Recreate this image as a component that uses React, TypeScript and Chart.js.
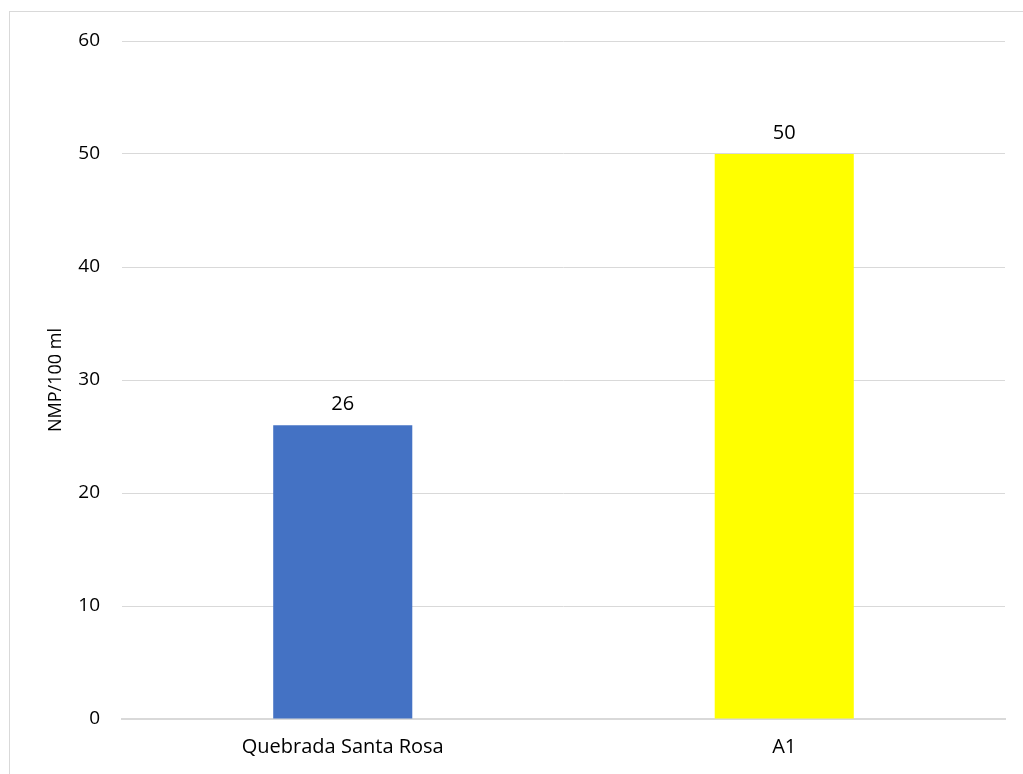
import React, { useEffect, useRef } from "react";
import { Chart, registerables } from "chart.js";

Chart.register(...registerables);

const categories = ["Quebrada Santa Rosa", "A1"];
const values = [26, 50];
const barColors = ["#4472C4", "#FFFF00"];
const yTitle = "NMP/100 ml";
const yMin = 0;
const yMax = 60;
const yStep = 10;

const FONT = "'Open Sans', Calibri, sans-serif";

const valueLabels = {
  id: "valueLabels",
  afterDatasetsDraw(chart: any) {
    const ctx = chart.ctx;
    ctx.save();
    ctx.font = `20px ${FONT}`;
    ctx.fillStyle = "#000000";
    ctx.textAlign = "center";
    ctx.textBaseline = "bottom";
    chart.data.datasets.forEach((ds: any, di: number) => {
      const meta = chart.getDatasetMeta(di);
      meta.data.forEach((bar: any, i: number) => {
        ctx.fillText(String(ds.data[i]), bar.x, bar.y - 11);
      });
    });
    ctx.restore();
  },
};

export default function App() {
  const ref = useRef<HTMLCanvasElement>(null);
  useEffect(() => {
    if (!ref.current) return;
    const chart = new Chart(ref.current, {
      type: "bar",
      data: {
        labels: categories,
        datasets: [
          {
            data: values,
            backgroundColor: barColors,
            borderWidth: 0,
            barPercentage: 0.315,
            categoryPercentage: 1,
          },
        ],
      },
      options: {
        animation: false,
        responsive: false,
        maintainAspectRatio: false,
        layout: { padding: { left: 0, right: 17, top: 29, bottom: 0 } },
        plugins: {
          legend: { display: false },
          tooltip: { enabled: false },
        },
        scales: {
          x: {
            grid: { display: false, drawTicks: false },
            border: { display: true, color: "#d9d9d9", width: 2 },
            ticks: {
              color: "#000000",
              font: { family: FONT, size: 20 },
              padding: 16,
              maxRotation: 0,
            },
            afterFit(scale: any) {
              scale.height = 56;
              scale.paddingLeft = 0;
              scale.paddingRight = 0;
            },
          },
          y: {
            min: yMin,
            max: yMax,
            grid: { color: "#d9d9d9", drawTicks: false },
            border: { display: false },
            ticks: {
              stepSize: yStep,
              color: "#000000",
              font: { family: FONT, size: 19 },
              padding: 22,
            },
            title: {
              display: true,
              text: yTitle,
              color: "#000000",
              font: { family: FONT, size: 18 },
              padding: { top: 35, bottom: 0 },
            },
            afterFit(scale: any) {
              scale.width = 112;
              scale.paddingTop = 0;
              scale.paddingBottom = 0;
            },
          },
        },
      },
      plugins: [valueLabels],
    });
    return () => chart.destroy();
  }, []);

  return (
    <div
      style={{
        position: "fixed",
        left: 0,
        top: 0,
        width: 1023,
        height: 774,
        overflow: "hidden",
        background: "#ffffff",
      }}
    >
      <div
        style={{
          position: "absolute",
          left: 9,
          top: 11,
          width: 1040,
          height: 800,
          border: "1px solid #d9d9d9",
          background: "#ffffff",
        }}
      >
        <canvas ref={ref} width={1012} height={763} style={{ display: "block" }} />
      </div>
    </div>
  );
}
